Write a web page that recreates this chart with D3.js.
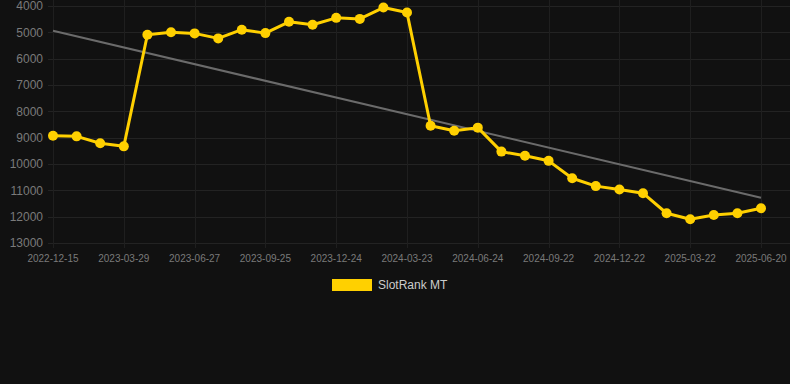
<!DOCTYPE html>
<html>
<head>
<meta charset="utf-8">
<script src="https://cdn.jsdelivr.net/npm/d3@7"></script>
<style>
  body { margin: 0; background: #111111; }
  #chart { width: 790px; height: 384px; }
  text { font-family: "Liberation Sans", Arial, sans-serif; }
</style>
</head>
<body>
<div id="chart"></div>
<script>
var dates = ["2022-12-15", "2023-01-19", "2023-02-23", "2023-03-29", "2023-04-28", "2023-05-28",
  "2023-06-27", "2023-07-27", "2023-08-26", "2023-09-25", "2023-10-25", "2023-11-24",
  "2023-12-24", "2024-01-23", "2024-02-22", "2024-03-23", "2024-04-23", "2024-05-24",
  "2024-06-24", "2024-07-24", "2024-08-23", "2024-09-22", "2024-10-22", "2024-11-21",
  "2024-12-22", "2025-01-21", "2025-02-20", "2025-03-22", "2025-04-21", "2025-05-21",
  "2025-06-20"];

var ranks = [8930, 8950, 9210, 9330, 5090, 5000, 5040, 5230, 4900, 5030, 4600, 4710,
  4450, 4490, 4060, 4250, 8550, 8740, 8620, 9530, 9690, 9880, 10540, 10840,
  10970, 11110, 11870, 12100, 11940, 11870, 11680];

var trendValues = [4940, 11280];
var yTicks = [4000, 5000, 6000, 7000, 8000, 9000, 10000, 11000, 12000, 13000];
var seriesName = "SlotRank MT";

var w = 790, h = 384;
var padLeft = 53, padRight = 761, padTop = 6, padBottom = 243;

var svg = d3.select("#chart").append("svg")
  .attr("width", w)
  .attr("height", h);

var xScale = d3.scalePoint()
  .domain(dates)
  .range([padLeft, padRight]);

var yScale = d3.scaleLinear()
  .domain([4000, 13000])
  .range([padTop, padBottom]);

var labelDates = dates.filter(function(d, i) { return i % 3 === 0; });

// grid
svg.append("g")
  .selectAll("line")
  .data(yTicks)
  .enter()
  .append("line")
  .attr("x1", padLeft - 5)
  .attr("x2", w)
  .attr("y1", function(d) { return Math.round(yScale(d)) + 0.5; })
  .attr("y2", function(d) { return Math.round(yScale(d)) + 0.5; })
  .attr("stroke", "#232323")
  .attr("stroke-width", 1);

svg.append("g")
  .selectAll("line")
  .data(labelDates)
  .enter()
  .append("line")
  .attr("x1", function(d) { return Math.round(xScale(d)) + 0.5; })
  .attr("x2", function(d) { return Math.round(xScale(d)) + 0.5; })
  .attr("y1", 0)
  .attr("y2", padBottom + 5)
  .attr("stroke", "#1f1f1f")
  .attr("stroke-width", 1);

// y axis labels
svg.append("g")
  .selectAll("text")
  .data(yTicks)
  .enter()
  .append("text")
  .attr("x", padLeft - 10)
  .attr("y", function(d) { return yScale(d); })
  .attr("dy", "0.35em")
  .attr("text-anchor", "end")
  .attr("fill", "#7a7a7a")
  .attr("font-size", 12)
  .text(function(d) { return d; });

// x axis labels
svg.append("g")
  .selectAll("text")
  .data(labelDates)
  .enter()
  .append("text")
  .attr("x", function(d) { return xScale(d); })
  .attr("y", padBottom + 19)
  .attr("text-anchor", "middle")
  .attr("fill", "#7a7a7a")
  .attr("font-size", 10)
  .text(function(d) { return d; });

// trend line
svg.append("line")
  .attr("x1", xScale(dates[0]))
  .attr("y1", yScale(trendValues[0]))
  .attr("x2", xScale(dates[dates.length - 1]))
  .attr("y2", yScale(trendValues[1]))
  .attr("stroke", "#6b6b6b")
  .attr("stroke-width", 2);

// series
var line = d3.line()
  .x(function(d, i) { return xScale(dates[i]); })
  .y(function(d) { return yScale(d); });

svg.append("path")
  .datum(ranks)
  .attr("d", line)
  .attr("fill", "none")
  .attr("stroke", "#ffd000")
  .attr("stroke-width", 3)
  .attr("stroke-linejoin", "round");

svg.append("g")
  .selectAll("circle")
  .data(ranks)
  .enter()
  .append("circle")
  .attr("cx", function(d, i) { return xScale(dates[i]); })
  .attr("cy", function(d) { return yScale(d); })
  .attr("r", 5)
  .attr("fill", "#ffd000");

// legend
var legend = svg.append("g")
  .attr("transform", "translate(332,279)");

legend.append("rect")
  .attr("width", 40)
  .attr("height", 12)
  .attr("fill", "#ffd000");

legend.append("text")
  .attr("x", 46)
  .attr("y", 6)
  .attr("dy", "0.35em")
  .attr("fill", "#cccccc")
  .attr("font-size", 12)
  .text(seriesName);
</script>
</body>
</html>
